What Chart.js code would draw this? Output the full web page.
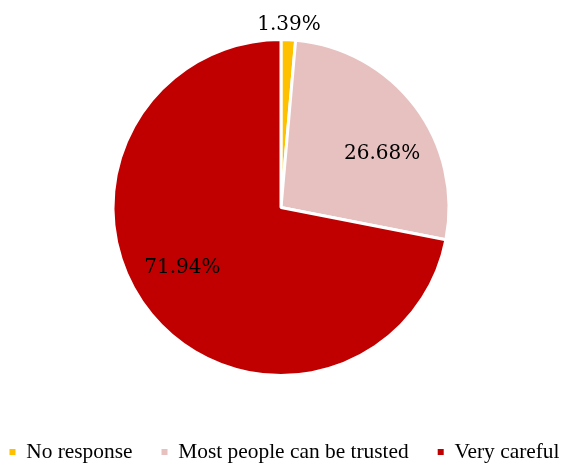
<!DOCTYPE html>
<html>
<head>
<meta charset="utf-8">
<script src="https://cdn.jsdelivr.net/npm/chart.js@4.4.0/dist/chart.umd.min.js"></script>
<style>
  html, body { margin: 0; padding: 0; background: #fff; }
  #wrap { width: 562px; height: 465px; position: relative; }
</style>
</head>
<body>
<div id="wrap"><canvas id="trustChart"></canvas></div>
<script>
// Categorias y porcentajes
const categorias = ['No response', 'Most people can be trusted', 'Very careful'];
const porcentajes = [1.39, 26.68, 71.94];
const colores = ['#FFC000', '#E6C1C0', '#C00000'];

// Etiquetas de valor sobre cada sector
const etiquetasPlugin = {
    id: 'etiquetas',
    afterDatasetsDraw(chart) {
        const ctx = chart.ctx;
        const meta = chart.getDatasetMeta(0);
        ctx.save();
        ctx.font = '20px "DejaVu Serif"';
        ctx.fillStyle = '#000';
        ctx.textAlign = 'center';
        ctx.textBaseline = 'middle';
        meta.data.forEach((arc, i) => {
            const p = arc.getProps(['x', 'y', 'startAngle', 'endAngle', 'outerRadius'], true);
            const mid = (p.startAngle + p.endAngle) / 2;
            const txt = porcentajes[i].toFixed(2) + '%';
            let ang, dist;
            if (porcentajes[i] < 5) {
                // sector pequeño: etiqueta fuera
                ang = mid; dist = p.outerRadius + 16;
            } else {
                ang = mid + 8.5 * Math.PI / 180; dist = p.outerRadius * 0.685;
            }
            ctx.fillText(txt, p.x + Math.cos(ang) * dist, p.y + Math.sin(ang) * dist + 1);
        });
        ctx.restore();
    }
};

const ctx = document.getElementById('trustChart').getContext('2d');
new Chart(ctx, {
    type: 'pie',
    data: {
        labels: categorias,
        datasets: [{
            data: porcentajes,
            backgroundColor: colores,
            borderColor: '#fff',
            borderWidth: 3
        }]
    },
    options: {
        responsive: true,
        maintainAspectRatio: false,
        animation: false,
        // margenes negativos a los lados para que la leyenda quepa en una linea
        layout: { padding: { top: 38, left: -28.5, right: -35.5, bottom: -7.7 } },
        plugins: {
            tooltip: { enabled: false },
            legend: {
                position: 'bottom',
                // titulo vacio: solo separa la leyenda del grafico
                title: {
                    display: true,
                    text: ' ',
                    font: { size: 10, lineHeight: 1 },
                    padding: { top: 25.3, bottom: 0 }
                },
                labels: {
                    color: '#000',
                    boxWidth: 6,
                    boxHeight: 6,
                    padding: 29,
                    font: { family: 'Liberation Serif', size: 21.4 },
                    // cuadros sin borde blanco
                    generateLabels(chart) {
                        return Chart.controllers.pie.overrides.plugins.legend.labels
                            .generateLabels(chart)
                            .map(item => Object.assign(item, { lineWidth: 0 }));
                    }
                }
            }
        }
    },
    plugins: [etiquetasPlugin]
});
</script>
</body>
</html>
